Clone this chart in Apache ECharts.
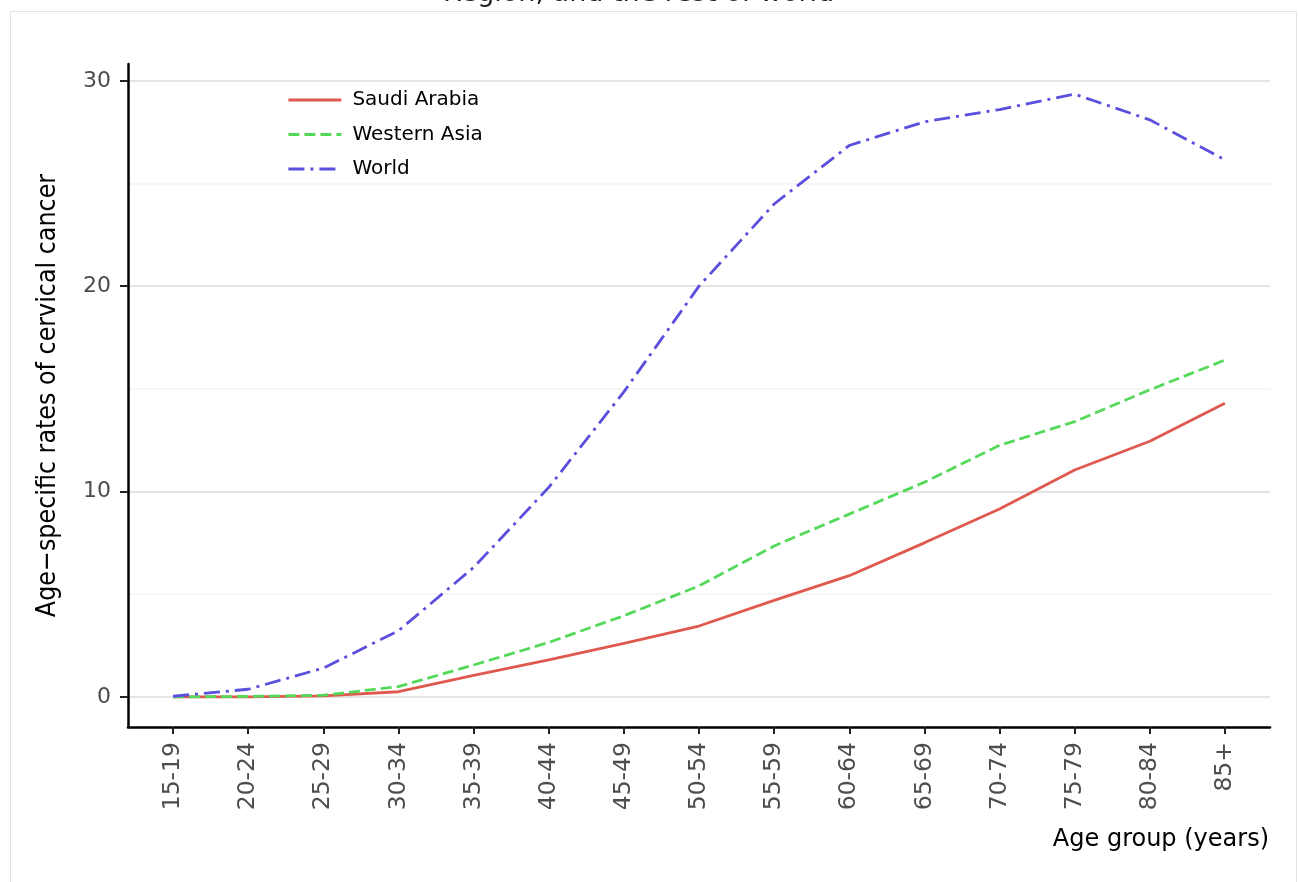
<!DOCTYPE html>
<html>
<head>
<meta charset="utf-8">
<script src="https://cdn.jsdelivr.net/npm/echarts@6/dist/echarts.min.js"></script>
<style>
  html, body { margin: 0; padding: 0; background: #ffffff; }
  #chart { position: absolute; left: 0; top: 0; width: 1298px; height: 882px; }
  #frame { position: absolute; left: 10px; top: 11px; width: 1287px; height: 900px;
           border: 1px solid #e3e3e3; box-sizing: border-box; pointer-events: none; }
</style>
</head>
<body>
<div id="frame"></div>
<div id="chart"></div>
<script>
// ---- data ----
const categories = ['15-19','20-24','25-29','30-34','35-39','40-44','45-49','50-54','55-59','60-64','65-69','70-74','75-79','80-84','85+'];
const seriesNames = ['Saudi Arabia', 'Western Asia', 'World'];
const saudiArabia = [0.0, 0.0, 0.05, 0.25, 1.05, 1.8, 2.6, 3.45, 4.7, 5.9, 7.5, 9.15, 11.05, 12.45, 14.3];
const westernAsia = [0.0, 0.02, 0.08, 0.5, 1.55, 2.65, 3.95, 5.4, 7.35, 8.9, 10.45, 12.25, 13.4, 14.95, 16.4];
const world = [0.03, 0.37, 1.4, 3.22, 6.3, 10.2, 14.85, 20.0, 24.0, 26.85, 28.0, 28.6, 29.35, 28.1, 26.15];
const yTicks = [0, 10, 20, 30];
const yMinorTicks = [5, 15, 25];
const titleText = 'Region, and the rest of world';
const xTitle = 'Age group (years)';
const yTitle = 'Age\u2212specific rates of cervical cancer';

// ---- build ----
const xIndex = categories.map((c, i) => i);
const toPairs = arr => arr.map((v, i) => [i, v]);
const allVals = saudiArabia.concat(westernAsia, world);
const vMin = Math.min.apply(null, allVals), vMax = Math.max.apply(null, allVals);
const pad = (vMax - vMin) * 0.05;

const FONT = 'DejaVu Sans';
const colors = ['#e0594f', '#55d95b', '#5b4fde'];

const chart = echarts.init(document.getElementById('chart'), null, { renderer: 'canvas' });
chart.setOption({
  animation: false,
  backgroundColor: 'transparent',
  textStyle: { fontFamily: FONT },
  title: [
    { text: titleText, left: 438, top: -25, textStyle: { fontFamily: FONT, fontSize: 27, fontWeight: 'normal', color: '#222' } },
    { text: xTitle, right: 24, top: 823, textStyle: { fontFamily: FONT, fontSize: 24, fontWeight: 'normal', color: '#000' } }
  ],
  grid: { left: 128, right: 28, top: 64, bottom: 155, containLabel: false },
  legend: {
    data: seriesNames,
    orient: 'vertical',
    left: 287, top: 90,
    padding: 0,
    itemWidth: 53, itemHeight: 20, itemGap: 14.5,
    itemStyle: { opacity: 0 },
    lineStyle: { width: 2.8 },
    textStyle: { fontFamily: FONT, fontSize: 20, color: '#000', padding: [0, 0, 0, 6] }
  },
  xAxis: {
    type: 'value', z: 5,
    min: -0.6, max: categories.length - 1 + 0.6,
    axisLine: { show: true, onZero: false, lineStyle: { color: '#000', width: 2.5 } },
    axisTick: { show: true, customValues: xIndex, length: 7, lineStyle: { color: '#222', width: 2 } },
    minorTick: { show: false },
    axisLabel: { customValues: xIndex, formatter: v => categories[Math.round(v)], rotate: 90, margin: 15,
                 fontFamily: FONT, fontSize: 23.5, color: '#4d4d4d' },
    splitLine: { show: false }
  },
  yAxis: {
    type: 'value', z: 5,
    min: vMin - pad, max: vMax + pad,
    name: yTitle, nameLocation: 'middle', nameGap: 66,
    nameTextStyle: { fontFamily: 'DejaVu Sans Condensed', fontSize: 26.5, color: '#000' },
    axisLine: { show: true, onZero: false, lineStyle: { color: '#000', width: 2.5 } },
    axisTick: { show: true, customValues: yTicks, length: 8, lineStyle: { color: '#222', width: 2 } },
    minorTick: { show: false },
    axisLabel: { customValues: yTicks, margin: 17, fontFamily: FONT, fontSize: 22, color: '#4d4d4d' },
    splitLine: { show: false }
  },
  series: [
    {
      name: '_grid', type: 'line', data: [], silent: true, z: -1,
      markLine: {
        silent: true, symbol: 'none', label: { show: false }, animation: false, z: -1,
        data: yMinorTicks.map(v => ({ yAxis: v, lineStyle: { color: '#f6f6f6', width: 2, type: 'solid' } }))
          .concat(yTicks.map(v => ({ yAxis: v, lineStyle: { color: '#e4e4e4', width: 2.2, type: 'solid' } })))
      }
    },
    {
      name: seriesNames[0], type: 'line', data: toPairs(saudiArabia), symbol: 'none', z: 3,
      lineStyle: { color: colors[0], width: 2.8, type: 'solid' }, itemStyle: { color: colors[0] }
    },
    {
      name: seriesNames[1], type: 'line', data: toPairs(westernAsia), symbol: 'none', z: 3,
      lineStyle: { color: colors[1], width: 2.8, type: [11, 5] }, itemStyle: { color: colors[1] }
    },
    {
      name: seriesNames[2], type: 'line', data: toPairs(world), symbol: 'none', z: 3,
      lineStyle: { color: colors[2], width: 2.8, type: [16, 6, 3, 6] }, itemStyle: { color: colors[2] }
    }
  ]
});
</script>
</body>
</html>
